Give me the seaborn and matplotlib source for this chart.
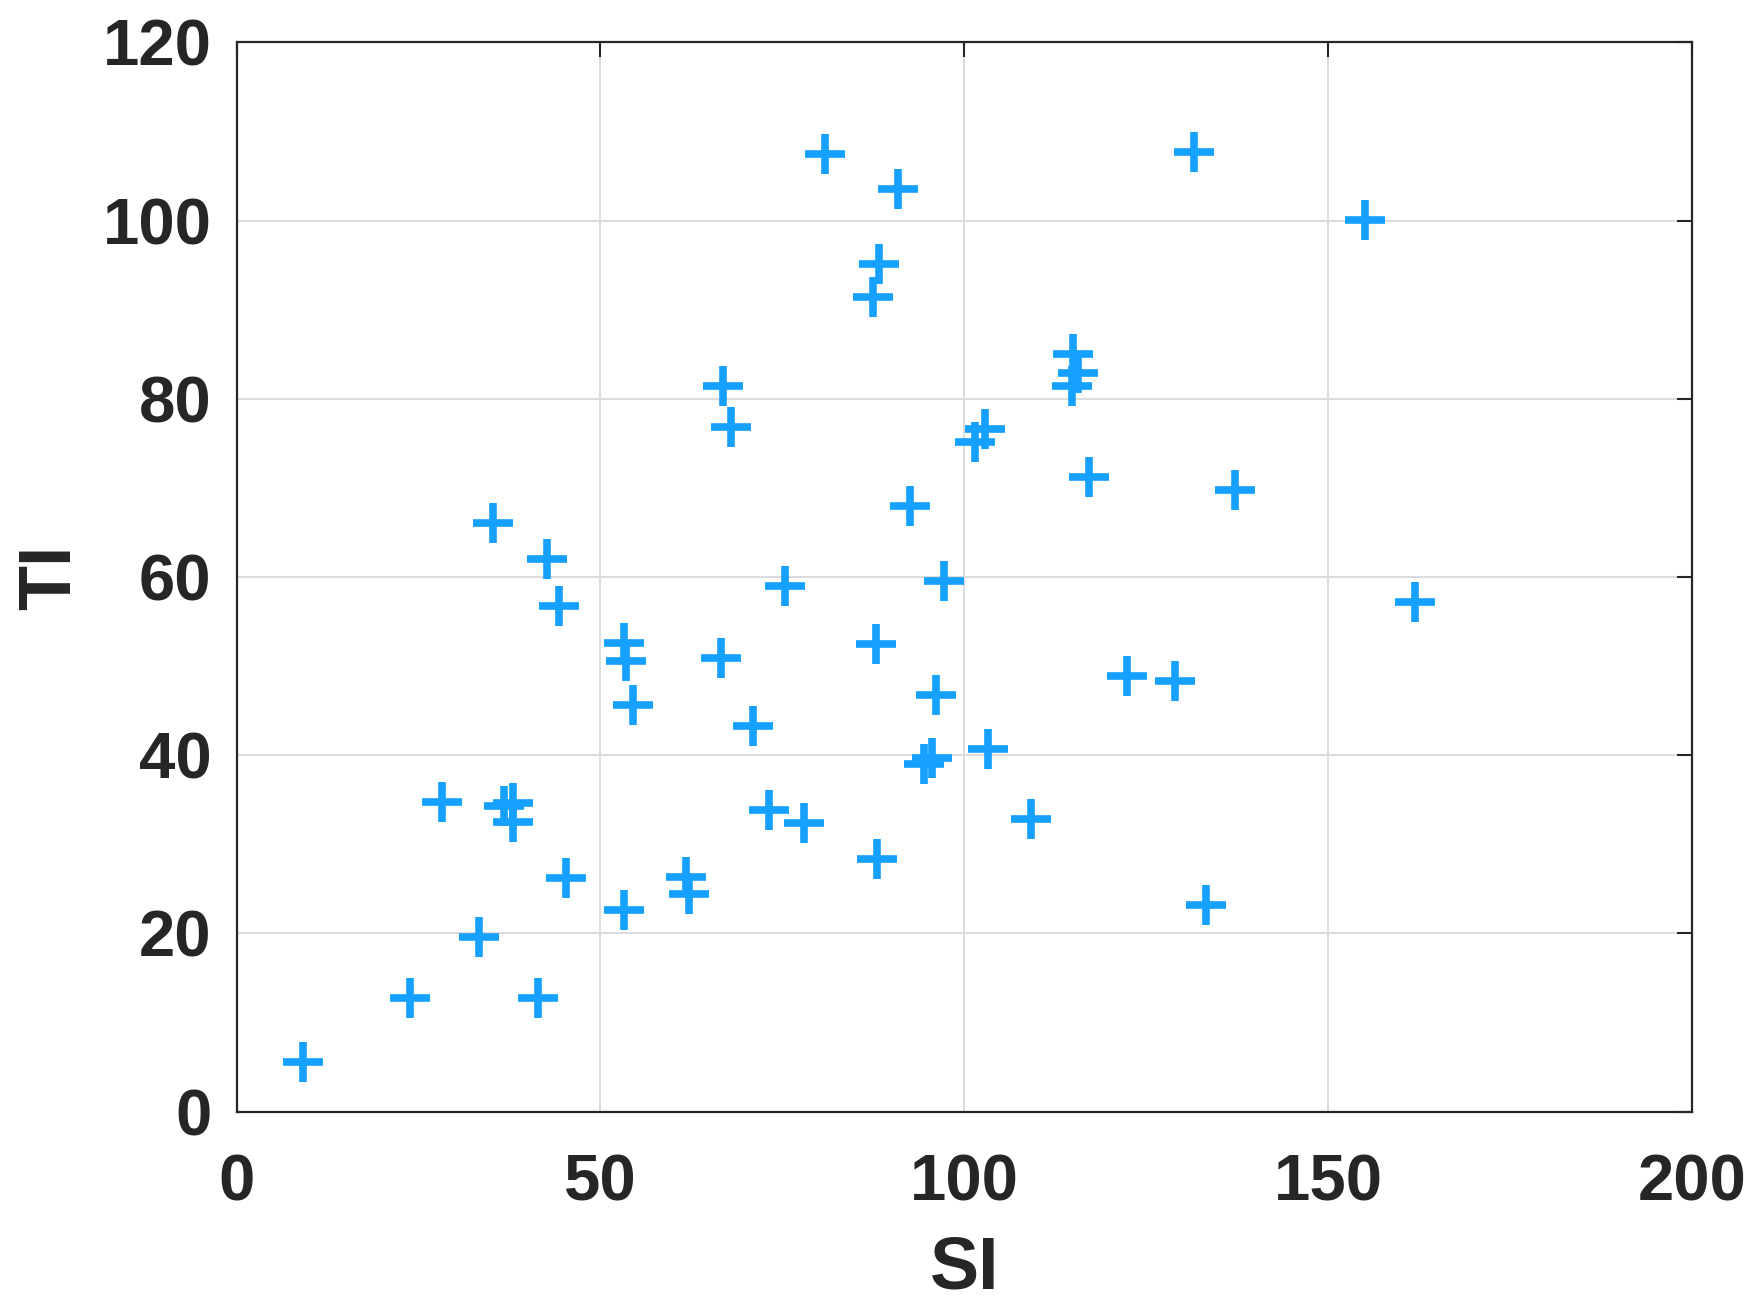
import matplotlib
matplotlib.use("Agg")
import matplotlib.pyplot as plt
import seaborn as sns
import pandas as pd

si = [9.1, 23.8, 33.3, 41.4, 28.2, 36.7, 38.0, 38.0, 35.2, 42.6,
      44.3, 45.3, 53.2, 53.5, 54.5, 53.3, 61.7, 62.1, 66.5, 70.9,
      75.3, 73.2, 77.9, 66.8, 68.0, 80.8, 90.9, 88.3, 87.4, 92.6,
      97.2, 87.8, 96.1, 94.5, 95.6, 103.2, 109.1, 88.0, 133.2, 122.3,
      129.0, 161.9, 137.2, 117.1, 102.9, 101.4, 115.0, 115.6, 114.8, 131.5,
      155.0]
ti = [5.6, 12.7, 19.6, 12.7, 34.8, 34.3, 34.6, 32.5, 66.1, 62.0,
      56.8, 26.2, 52.6, 50.6, 45.6, 22.6, 26.3, 24.4, 50.9, 43.3,
      59.0, 33.9, 32.4, 81.4, 76.8, 107.5, 103.6, 95.1, 91.4, 68.0,
      59.5, 52.5, 46.7, 39.0, 39.7, 40.7, 32.8, 28.4, 23.2, 48.9,
      48.3, 57.2, 69.8, 71.2, 76.6, 75.2, 85.0, 82.9, 81.4, 107.7,
      100.1]
x_ticks = [0, 50, 100, 150, 200]
y_ticks = [0, 20, 40, 60, 80, 100, 120]

df = pd.DataFrame({"SI": si, "TI": ti})

sns.set_theme(style="white")
plt.rcParams['font.family'] = ['Liberation Sans', 'DejaVu Sans']
plt.rcParams['font.weight'] = 'bold'

fig = plt.figure(figsize=(17.5, 13.13), dpi=100)
ax = fig.add_axes([0.1352, 0.1534, 0.8317, 0.8143])

dark = "#262626"
sns.scatterplot(data=df, x="SI", y="TI", marker="+", s=870, linewidth=5.5,
                color="#16A0FF", ax=ax, zorder=3, legend=False)

ax.set_xlim(0, 200)
ax.set_ylim(0, 120)
ax.set_xticks(x_ticks)
ax.set_yticks(y_ticks)
ax.set_xticklabels([str(v) for v in x_ticks])
ax.set_yticklabels([str(v) for v in y_ticks])
ax.grid(True, color="#d9d9d9", linewidth=1.3, zorder=0)
ax.set_axisbelow(True)

for sp in ax.spines.values():
    sp.set_visible(True)
    sp.set_color(dark)
    sp.set_linewidth(1.6)

ax.tick_params(axis="both", direction="in", length=11, width=1.5, colors=dark,
               labelsize=47, top=True, right=True, labelcolor=dark)
ax.tick_params(axis="x", pad=30)
ax.tick_params(axis="y", pad=18)
for lab in ax.get_xticklabels() + ax.get_yticklabels():
    lab.set_fontweight("bold")

ax.set_xlabel("SI", fontsize=53, fontweight="bold", color=dark)
ax.set_ylabel("TI", fontsize=53, fontweight="bold", color=dark)
ax.xaxis.label.set_va("center")
ax.yaxis.label.set_va("center")
ax.xaxis.set_label_coords(0.5, -0.148)
ax.yaxis.set_label_coords(-0.128, 0.5)

fig.savefig("out.png", dpi=100)
